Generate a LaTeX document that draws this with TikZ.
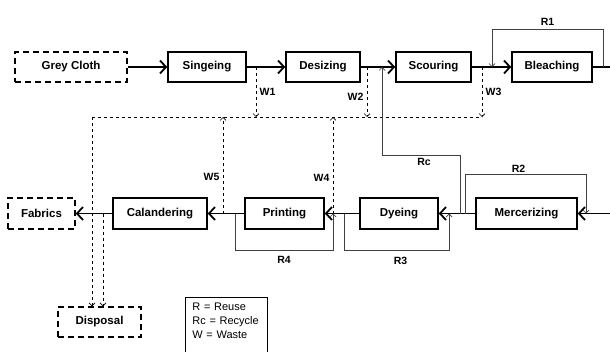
\documentclass[tikz,border=0pt]{standalone}
\usepackage{fontspec}
\setmainfont{Liberation Sans}
\usetikzlibrary{arrows.meta}

\begin{document}
\begin{tikzpicture}[x=1pt, y=-1pt, >={Straight Barb[length=6pt,width=13pt]},
  box/.style={draw, line width=1.5pt, minimum height=30pt, inner sep=0pt, font=\bfseries\fontsize{11.5}{13}\selectfont},
  endbox/.style={box, dash pattern=on 6pt off 4pt},
  flow/.style={->, line width=1.8pt},
  waste/.style={dashed, line width=0.6pt, -{Straight Barb[length=3pt,width=6pt]}},
  reuse/.style={line width=0.7pt, black!75, -{Straight Barb[length=3pt,width=6pt]}},
  lbl/.style={text=black, font=\bfseries\fontsize{10.5}{12}\selectfont}]
\useasboundingbox (0,0) rectangle (610,351);
\node[endbox, minimum width=112pt] (grey) at (71,67) {Grey Cloth};
\node[box, minimum width=78pt] (sing) at (207,67) {Singeing};
\node[box, minimum width=74pt] (desz) at (323,67) {Desizing};
\node[box, minimum width=75pt] (scour) at (433.5,67) {Scouring};
\node[box, minimum width=80pt] (bleach) at (552,67) {Bleaching};
\node[endbox, minimum width=67pt, minimum height=31pt] (fabric) at (41.5,213.5) {Fabrics};
\node[box, minimum width=94pt, minimum height=31pt] (calan) at (160,213.5) {Calandering};
\node[box, minimum width=79pt, minimum height=31pt] (print) at (284.5,213.5) {Printing};
\node[box, minimum width=78pt, minimum height=31pt] (dye) at (399,213.5) {Dyeing};
\node[box, minimum width=101pt, minimum height=31pt] (merc) at (526.5,213.5) {Mercerizing};
\node[endbox, minimum width=83pt] (disp) at (99.5,322) {Disposal};
\node[draw, line width=0.8pt, anchor=north west, align=left, inner xsep=7pt, inner ysep=6pt, text width=68pt, text depth=42pt, font=\fontsize{11}{14}\selectfont] (legend) at (185,297) {R = Reuse\\Rc = Recycle\\W = Waste};
\coordinate (rt) at (612,67);
\coordinate (rb) at (612,213.5);
\coordinate (w1) at (256,67);
\coordinate (w2) at (367,67);
\coordinate (w3) at (482,67);
\coordinate (wl) at (92,117);
\coordinate (wr) at (482,117);
\coordinate (w4) at (333,213.5);
\coordinate (w5) at (223,213.5);
\coordinate (w6) at (103,213.5);
\draw[flow] (grey) -- (sing);
\draw[flow] (sing) -- (desz);
\draw[flow] (desz) -- (scour);
\draw[flow] (scour) -- (bleach);
\draw[line width=1.8pt] (bleach) -- (rt);
\draw[flow] (rb) -- (merc);
\draw[flow] (merc) -- (dye);
\draw[flow] (dye) -- (print);
\draw[flow] (print) -- (calan);
\draw[flow] (calan) -- (fabric);
\draw[dashed, line width=0.6pt] (wl) -- (wr);
\draw[waste] (w1) -- (w1 |- wl) node[midway, right, lbl] (lw1) {W1};
\draw[waste] (w2) -- (w2 |- wl) node[midway, left, lbl, yshift=-5pt] (lw2) {W2};
\draw[waste] (w3) -- (wr) node[midway, right, lbl] (lw3) {W3};
\draw[waste] (w4) -- (w4 |- wl) node[midway, left, lbl, yshift=-13pt] (lw4) {W4};
\draw[waste] (w5) -- (w5 |- wl) node[midway, left, lbl, yshift=-12pt] (lw5) {W5};
\draw[waste] (wl) -- (wl |- disp.north);
\draw[waste] (w6) -- (w6 |- disp.north);
\draw[reuse] (603,67) -- (603,29) -- (492,29) node[midway, above, lbl] (lr1) {R1} -- (492,67);
\draw[reuse] (465,213.5) -- (465,174) -- (586,174) node[midway, above, lbl, xshift=-7pt, yshift=-2pt] (lr2) {R2} -- (586,213.5);
\draw[reuse] (460,213.5) -- (460,155) -- (382,155) node[midway, below, lbl, xshift=3pt] (lrc) {Rc} -- (382,67);
\draw[reuse] (344,213.5) -- (344,250) -- (449,250) node[midway, below, lbl, xshift=4pt, yshift=-3pt] (lr3) {R3} -- (449,213.5);
\draw[reuse] (235,213.5) -- (235,250) -- (333,250) node[midway, below, lbl, yshift=-3pt] (lr4) {R4} -- (333,213.5);
\end{tikzpicture}
\end{document}
